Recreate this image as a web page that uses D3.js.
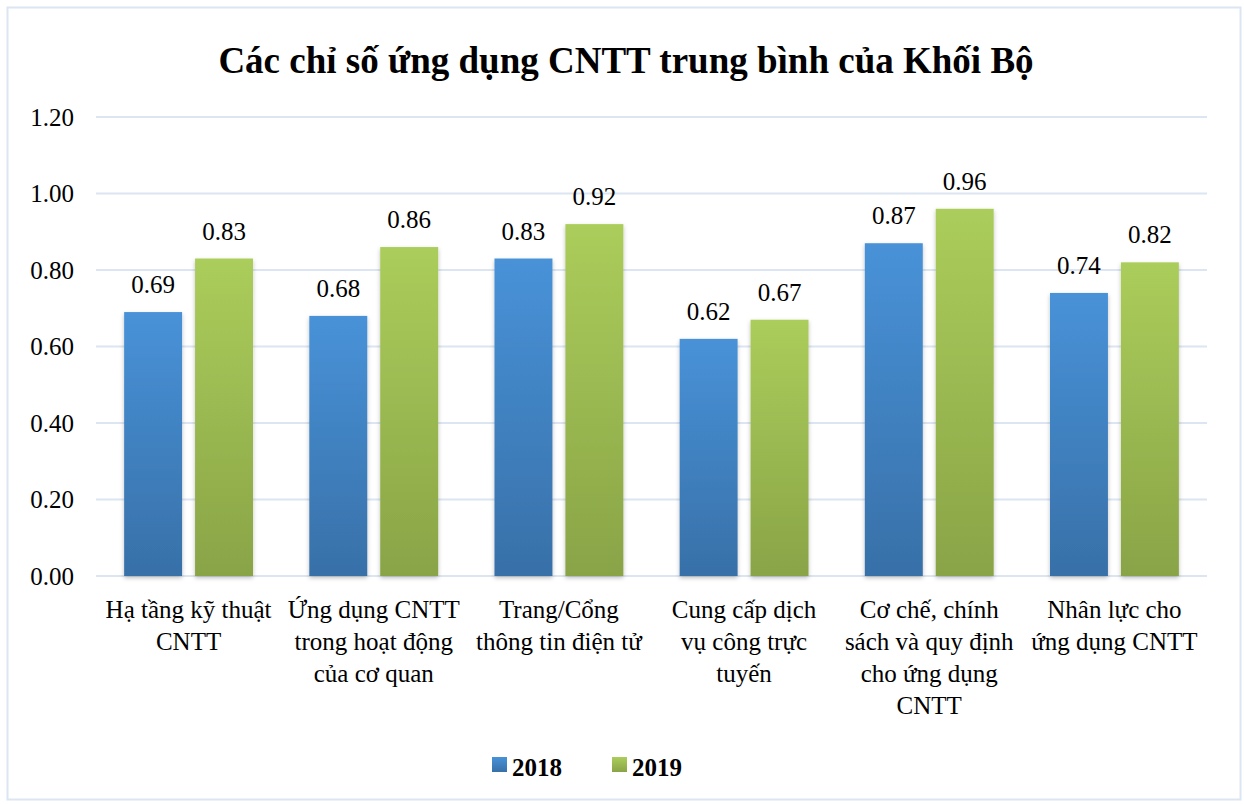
<!DOCTYPE html>
<html>
<head>
<meta charset="utf-8">
<script src="https://cdn.jsdelivr.net/npm/d3@7"></script>
<style>
  body { margin: 0; background: #fff; }
  text { font-family: "Liberation Serif", "Times New Roman", serif; fill: #000; }
</style>
</head>
<body>
<div id="chart"></div>
<script>
var categories = [
  ["Hạ tầng kỹ thuật", "CNTT"],
  ["Ứng dụng CNTT", "trong hoạt động", "của cơ quan"],
  ["Trang/Cổng", "thông tin điện tử"],
  ["Cung cấp dịch", "vụ công trực", "tuyến"],
  ["Cơ chế, chính", "sách và quy định", "cho ứng dụng", "CNTT"],
  ["Nhân lực cho", "ứng dụng CNTT"]
];
var values2018 = [0.69, 0.68, 0.83, 0.62, 0.87, 0.74];
var values2019 = [0.83, 0.86, 0.92, 0.67, 0.96, 0.82];
var seriesNames = ["2018", "2019"];
var yTicks = [0, 0.2, 0.4, 0.6, 0.8, 1.0, 1.2];

var w = 1244, h = 804;
var plotLeft = 96, plotRight = 1207, plotTop = 117, plotBottom = 576;

var svg = d3.select("#chart").append("svg")
  .attr("width", w)
  .attr("height", h);

var defs = svg.append("defs");
var blueGrad = defs.append("linearGradient").attr("id", "gBlue")
  .attr("x1", 0).attr("y1", 0).attr("x2", 0).attr("y2", 1);
blueGrad.append("stop").attr("offset", "0%").attr("stop-color", "#4892d8");
blueGrad.append("stop").attr("offset", "100%").attr("stop-color", "#3870a8");
var greenGrad = defs.append("linearGradient").attr("id", "gGreen")
  .attr("x1", 0).attr("y1", 0).attr("x2", 0).attr("y2", 1);
greenGrad.append("stop").attr("offset", "0%").attr("stop-color", "#abcd5b");
greenGrad.append("stop").attr("offset", "100%").attr("stop-color", "#89a447");

var shadow = defs.append("filter").attr("id", "shadow")
  .attr("x", "-20%").attr("y", "-5%").attr("width", "140%").attr("height", "110%");
shadow.append("feDropShadow").attr("dx", 0).attr("dy", 2).attr("stdDeviation", 2)
  .attr("flood-color", "#000").attr("flood-opacity", 0.25);

// outer border
svg.append("rect")
  .attr("x", 7.5).attr("y", 7.5)
  .attr("width", 1233).attr("height", 792)
  .attr("fill", "#fff")
  .attr("stroke", "#dbe6f2")
  .attr("stroke-width", 2);

svg.append("text")
  .attr("x", 626).attr("y", 73)
  .attr("text-anchor", "middle")
  .attr("font-size", 37)
  .attr("font-weight", "bold")
  .text("Các chỉ số ứng dụng CNTT trung bình của Khối Bộ");

var x = d3.scaleBand()
  .domain(d3.range(categories.length))
  .range([plotLeft, plotRight])
  .padding(0);

var y = d3.scaleLinear()
  .domain([0, 1.2])
  .range([plotBottom, plotTop]);

// gridlines
svg.append("g")
  .selectAll("line")
  .data(yTicks)
  .enter()
  .append("line")
  .attr("x1", plotLeft).attr("x2", plotRight)
  .attr("y1", function(d) { return y(d); })
  .attr("y2", function(d) { return y(d); })
  .attr("stroke", "#dbe6f2")
  .attr("stroke-width", 2);

var yAxis = d3.axisLeft(y)
  .tickValues(yTicks)
  .tickFormat(d3.format(".2f"))
  .tickSize(0)
  .tickPadding(22);

svg.append("g")
  .attr("transform", "translate(" + plotLeft + ",0)")
  .call(yAxis)
  .call(function(g) { g.select(".domain").remove(); })
  .selectAll("text")
  .attr("font-size", 25)
  .attr("font-family", "Liberation Serif")
  .attr("fill", "#000");

var bw = x.bandwidth();
var barW = bw * 0.313;
var gap = bw * 0.07;

var series = [
  { name: seriesNames[0], values: values2018, fill: "url(#gBlue)", off: -gap / 2 - barW },
  { name: seriesNames[1], values: values2019, fill: "url(#gGreen)", off: gap / 2 }
];

series.forEach(function(s) {
  var g = svg.append("g");
  g.selectAll("rect")
    .data(s.values)
    .enter()
    .append("rect")
    .attr("x", function(d, i) { return x(i) + bw / 2 + s.off; })
    .attr("y", function(d) { return y(d); })
    .attr("width", barW)
    .attr("height", function(d) { return y(0) - y(d); })
    .attr("fill", s.fill)
    .attr("filter", "url(#shadow)");

  g.selectAll("text")
    .data(s.values)
    .enter()
    .append("text")
    .attr("x", function(d, i) { return x(i) + bw / 2 + s.off + barW / 2; })
    .attr("y", function(d) { return y(d) - 19; })
    .attr("text-anchor", "middle")
    .attr("font-size", 25)
    .text(function(d) { return d3.format(".2f")(d); });
});

// category labels
var catG = svg.append("g");
categories.forEach(function(lines, i) {
  var t = catG.append("text")
    .attr("x", x(i) + bw / 2)
    .attr("y", 618)
    .attr("text-anchor", "middle")
    .attr("font-size", 25);
  lines.forEach(function(line, j) {
    t.append("tspan")
      .attr("x", x(i) + bw / 2)
      .attr("dy", j === 0 ? 0 : 32)
      .text(line);
  });
});

// legend
var legend = svg.append("g");
var legendX = [492, 612];
series.forEach(function(s, i) {
  legend.append("rect")
    .attr("x", legendX[i]).attr("y", 757)
    .attr("width", 15).attr("height", 15)
    .attr("fill", s.fill);
  legend.append("text")
    .attr("x", legendX[i] + 20).attr("y", 776)
    .attr("font-size", 25)
    .attr("font-weight", "bold")
    .text(s.name);
});
</script>
</body>
</html>
